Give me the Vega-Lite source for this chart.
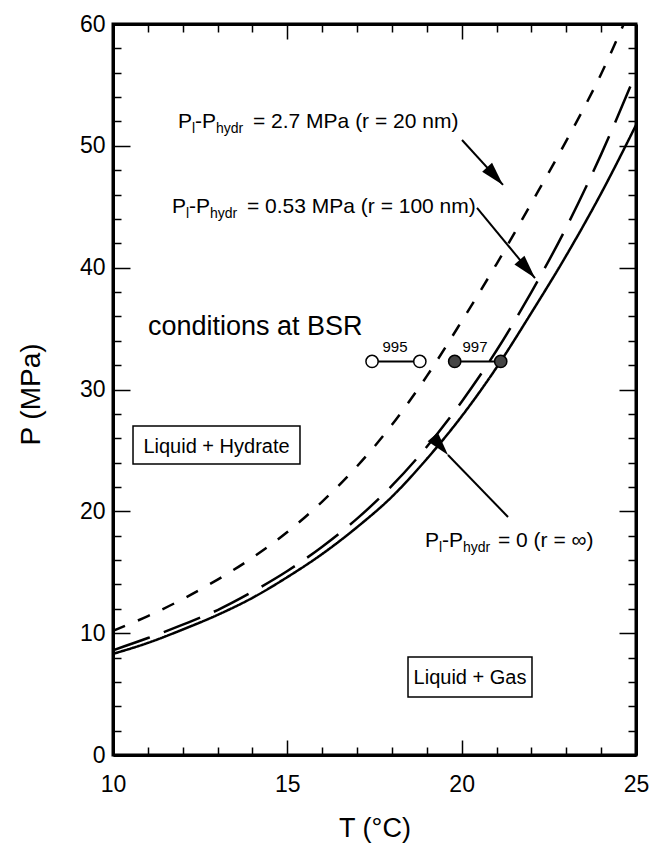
{
  "$schema": "https://vega.github.io/schema/vega-lite/v6.json",
  "width": 523,
  "height": 731,
  "autosize": {"type": "none"},
  "padding": {"left": 113, "top": 24, "right": 14, "bottom": 90},
  "background": "white",
  "config": {
    "font": "Liberation Sans",
    "view": {"stroke": "black", "strokeWidth": 3},
    "axis": {
      "grid": false,
      "ticks": true,
      "zindex": 1,
      "domainColor": "black",
      "domainWidth": 3,
      "tickColor": "black",
      "tickWidth": 1.5,
      "labelColor": "black",
      "labelFont": "Liberation Sans",
      "labelFontSize": 23,
      "labelFlush": false,
      "labelOverlap": false,
      "titleFont": "Liberation Sans",
      "titleFontSize": 27,
      "titleFontWeight": "normal",
      "titleColor": "black"
    }
  },
  "datasets": {
    "curves": [
      {"curve": "inf", "T": 10, "P": 8.3},
      {"curve": "inf", "T": 11, "P": 9.2},
      {"curve": "inf", "T": 12, "P": 10.3},
      {"curve": "inf", "T": 13, "P": 11.5},
      {"curve": "inf", "T": 14, "P": 12.9},
      {"curve": "inf", "T": 15, "P": 14.6},
      {"curve": "inf", "T": 16, "P": 16.5},
      {"curve": "inf", "T": 17, "P": 18.7},
      {"curve": "inf", "T": 18, "P": 21.2},
      {"curve": "inf", "T": 19, "P": 24.3},
      {"curve": "inf", "T": 20, "P": 27.8},
      {"curve": "inf", "T": 21, "P": 31.8},
      {"curve": "inf", "T": 22, "P": 36.3},
      {"curve": "inf", "T": 23, "P": 41.0},
      {"curve": "inf", "T": 24, "P": 46.1},
      {"curve": "inf", "T": 25, "P": 51.7},
      {"curve": "r100", "T": 10, "P": 8.6},
      {"curve": "r100", "T": 11, "P": 9.6},
      {"curve": "r100", "T": 12, "P": 10.7},
      {"curve": "r100", "T": 13, "P": 11.9},
      {"curve": "r100", "T": 14, "P": 13.4},
      {"curve": "r100", "T": 15, "P": 15.1},
      {"curve": "r100", "T": 16, "P": 17.1},
      {"curve": "r100", "T": 17, "P": 19.4},
      {"curve": "r100", "T": 18, "P": 22.1},
      {"curve": "r100", "T": 19, "P": 25.3},
      {"curve": "r100", "T": 20, "P": 29.0},
      {"curve": "r100", "T": 21, "P": 33.2},
      {"curve": "r100", "T": 22, "P": 38.0},
      {"curve": "r100", "T": 23, "P": 43.3},
      {"curve": "r100", "T": 24, "P": 49.3},
      {"curve": "r100", "T": 25, "P": 56.0},
      {"curve": "r20", "T": 10, "P": 10.2},
      {"curve": "r20", "T": 11, "P": 11.4},
      {"curve": "r20", "T": 12, "P": 12.8},
      {"curve": "r20", "T": 13, "P": 14.4},
      {"curve": "r20", "T": 14, "P": 16.2},
      {"curve": "r20", "T": 15, "P": 18.3},
      {"curve": "r20", "T": 16, "P": 20.8},
      {"curve": "r20", "T": 17, "P": 23.7},
      {"curve": "r20", "T": 18, "P": 27.1},
      {"curve": "r20", "T": 19, "P": 31.1},
      {"curve": "r20", "T": 20, "P": 35.6},
      {"curve": "r20", "T": 21, "P": 40.3},
      {"curve": "r20", "T": 22, "P": 45.3},
      {"curve": "r20", "T": 23, "P": 50.4},
      {"curve": "r20", "T": 24, "P": 55.9},
      {"curve": "r20", "T": 24.65, "P": 60.0}
    ],
    "sites": [
      {"site": "995", "T": 17.43, "P": 32.3},
      {"site": "995", "T": 18.8, "P": 32.3},
      {"site": "997", "T": 19.8, "P": 32.3},
      {"site": "997", "T": 21.12, "P": 32.3}
    ],
    "arrows": [
      {"id": "a1", "T": 20.01, "P": 50.48, "T2": 21.185, "P2": 46.79},
      {"id": "a2", "T": 20.44, "P": 44.9, "T2": 22.103, "P2": 39.15},
      {"id": "a3", "T": 21.329, "P": 19.54, "T2": 19.608, "P2": 24.62}
    ],
    "boxes": [
      {"box": "hydrate", "T": 10.574, "T2": 15.363, "P": 23.89, "P2": 27.01},
      {"box": "gas", "T": 18.461, "T2": 22.017, "P": 4.76, "P2": 8.04}
    ],
    "labels": [
      {"T": 11.864, "P": 51.46, "text": "P", "role": "main"},
      {"T": 12.266, "P": 51.05, "text": "l", "role": "sub"},
      {"T": 12.352, "P": 51.46, "text": "-P", "role": "main"},
      {"T": 12.954, "P": 51.05, "text": "hydr", "role": "sub"},
      {"T": 14.015, "P": 51.46, "text": "= 2.7 MPa (r = 20 nm)", "role": "main"},
      {"T": 11.692, "P": 44.49, "text": "P", "role": "main"},
      {"T": 12.094, "P": 44.08, "text": "l", "role": "sub"},
      {"T": 12.18, "P": 44.49, "text": "-P", "role": "main"},
      {"T": 12.782, "P": 44.08, "text": "hydr", "role": "sub"},
      {"T": 13.843, "P": 44.49, "text": "= 0.53 MPa (r = 100 nm)", "role": "main"},
      {"T": 18.948, "P": 17.07, "text": "P", "role": "main"},
      {"T": 19.35, "P": 16.66, "text": "l", "role": "sub"},
      {"T": 19.436, "P": 17.07, "text": "-P", "role": "main"},
      {"T": 20.038, "P": 16.66, "text": "hydr", "role": "sub"},
      {"T": 21.042, "P": 17.07, "text": "= 0 (r = ∞)", "role": "main"},
      {"T": 11.004, "P": 34.47, "text": "conditions at BSR", "role": "big"},
      {"T": 12.968, "P": 24.79, "text": "Liquid + Hydrate", "role": "box"},
      {"T": 20.239, "P": 5.83, "text": "Liquid + Gas", "role": "box"},
      {"T": 18.088, "P": 33.08, "text": "995", "role": "site"},
      {"T": 20.382, "P": 33.08, "text": "997", "role": "site"}
    ]
  },
  "layer": [
    {
      "data": {"name": "curves"},
      "mark": {"type": "line", "color": "black", "strokeWidth": 2.5, "interpolate": "monotone", "clip": true},
      "encoding": {
        "x": {
          "field": "T", "type": "quantitative",
          "scale": {"domain": [10, 25], "nice": false},
          "axis": {
            "orient": "bottom",
            "title": "T (°C)",
            "values": [10, 11, 12, 13, 14, 15, 16, 17, 18, 19, 20, 21, 22, 23, 24, 25],
            "labelExpr": "datum.value % 5 === 0 ? datum.label : ''",
            "tickSize": {"condition": {"test": "datum.value % 5 === 0", "value": -15}, "value": -8},
            "labelPadding": 33,
            "titleBaseline": "middle",
            "titleY": 73
          }
        },
        "y": {
          "field": "P", "type": "quantitative",
          "scale": {"domain": [0, 60], "nice": false},
          "axis": {
            "orient": "left",
            "title": "P (MPa)",
            "titleFontSize": 28,
            "values": [0, 2, 4, 6, 8, 10, 12, 14, 16, 18, 20, 22, 24, 26, 28, 30, 32, 34, 36, 38, 40, 42, 44, 46, 48, 50, 52, 54, 56, 58, 60],
            "labelExpr": "datum.value % 10 === 0 ? datum.label : ''",
            "tickSize": {"condition": {"test": "datum.value % 10 === 0", "value": -17}, "value": -8},
            "labelPadding": 25,
            "titleAngle": -90,
            "titleBaseline": "middle",
            "titleX": -82,
            "titleY": 370
          }
        },
        "strokeDash": {
          "field": "curve", "type": "nominal",
          "scale": {"domain": ["inf", "r100", "r20"], "range": [[1, 0], [39, 15], [13, 14]]},
          "legend": null
        }
      }
    },
    {
      "data": {"name": "sites"},
      "mark": {"type": "line", "color": "black", "strokeWidth": 2},
      "encoding": {
        "x": {
          "field": "T", "type": "quantitative",
          "scale": {"domain": [10, 25], "nice": false},
          "axis": {
            "orient": "top", "title": null, "labels": false,
            "values": [10, 11, 12, 13, 14, 15, 16, 17, 18, 19, 20, 21, 22, 23, 24, 25],
            "tickSize": {"condition": {"test": "datum.value % 5 === 0", "value": -15}, "value": -8}
          }
        },
        "y": {
          "field": "P", "type": "quantitative",
          "scale": {"domain": [0, 60], "nice": false},
          "axis": {
            "orient": "right", "title": null, "labels": false,
            "values": [0, 2, 4, 6, 8, 10, 12, 14, 16, 18, 20, 22, 24, 26, 28, 30, 32, 34, 36, 38, 40, 42, 44, 46, 48, 50, 52, 54, 56, 58, 60],
            "tickSize": {"condition": {"test": "datum.value % 10 === 0", "value": -17}, "value": -8}
          }
        },
        "detail": {"field": "site", "type": "nominal"}
      }
    },
    {
      "data": {"name": "sites"},
      "mark": {"type": "point", "shape": "circle", "size": 150, "stroke": "black", "strokeWidth": 1.5, "filled": false, "opacity": 1},
      "encoding": {
        "x": {"field": "T", "type": "quantitative", "axis": null},
        "y": {"field": "P", "type": "quantitative", "axis": null},
        "fill": {"field": "site", "type": "nominal", "scale": {"domain": ["995", "997"], "range": ["white", "#454545"]}, "legend": null},
        "fillOpacity": {"value": 1}
      }
    },
    {
      "data": {"name": "arrows"},
      "mark": {"type": "rule", "color": "black", "strokeWidth": 2},
      "encoding": {
        "x": {"field": "T", "type": "quantitative", "axis": null},
        "y": {"field": "P", "type": "quantitative", "axis": null},
        "x2": {"field": "T2"},
        "y2": {"field": "P2"}
      }
    },
    {
      "data": {"name": "arrows"},
      "mark": {"type": "point", "shape": "M0,0L0.42,1.5L-0.42,1.5Z", "size": 1000, "filled": true, "color": "black", "opacity": 1},
      "encoding": {
        "x": {"field": "T2", "type": "quantitative", "axis": null},
        "y": {"field": "P2", "type": "quantitative", "axis": null},
        "angle": {"field": "id", "type": "nominal", "scale": {"domain": ["a1", "a2", "a3"], "range": [138, 140, 316]}, "legend": null}
      }
    },
    {
      "data": {"name": "boxes"},
      "mark": {"type": "rect", "fill": "white", "stroke": "black", "strokeWidth": 1.5},
      "encoding": {
        "x": {"field": "T", "type": "quantitative", "axis": null},
        "x2": {"field": "T2"},
        "y": {"field": "P", "type": "quantitative", "axis": null},
        "y2": {"field": "P2"}
      }
    },
    {
      "data": {"name": "labels"},
      "transform": [{"filter": "datum.role === 'main'"}],
      "mark": {"type": "text", "align": "left", "baseline": "alphabetic", "color": "black", "font": "Liberation Sans", "fontSize": 21},
      "encoding": {
        "x": {"field": "T", "type": "quantitative", "axis": null},
        "y": {"field": "P", "type": "quantitative", "axis": null},
        "text": {"field": "text"}
      }
    },
    {
      "data": {"name": "labels"},
      "transform": [{"filter": "datum.role === 'sub'"}],
      "mark": {"type": "text", "align": "left", "baseline": "alphabetic", "color": "black", "font": "Liberation Sans", "fontSize": 14},
      "encoding": {
        "x": {"field": "T", "type": "quantitative", "axis": null},
        "y": {"field": "P", "type": "quantitative", "axis": null},
        "text": {"field": "text"}
      }
    },
    {
      "data": {"name": "labels"},
      "transform": [{"filter": "datum.role === 'big'"}],
      "mark": {"type": "text", "align": "left", "baseline": "alphabetic", "color": "black", "font": "Liberation Sans", "fontSize": 27},
      "encoding": {
        "x": {"field": "T", "type": "quantitative", "axis": null},
        "y": {"field": "P", "type": "quantitative", "axis": null},
        "text": {"field": "text"}
      }
    },
    {
      "data": {"name": "labels"},
      "transform": [{"filter": "datum.role === 'box'"}],
      "mark": {"type": "text", "align": "center", "baseline": "alphabetic", "color": "black", "font": "Liberation Sans", "fontSize": 20},
      "encoding": {
        "x": {"field": "T", "type": "quantitative", "axis": null},
        "y": {"field": "P", "type": "quantitative", "axis": null},
        "text": {"field": "text"}
      }
    },
    {
      "data": {"name": "labels"},
      "transform": [{"filter": "datum.role === 'site'"}],
      "mark": {"type": "text", "align": "center", "baseline": "alphabetic", "color": "black", "font": "Liberation Sans", "fontSize": 15},
      "encoding": {
        "x": {"field": "T", "type": "quantitative", "axis": null},
        "y": {"field": "P", "type": "quantitative", "axis": null},
        "text": {"field": "text"}
      }
    }
  ],
  "resolve": {"axis": {"x": "independent", "y": "independent"}, "scale": {"angle": "independent", "fill": "independent", "strokeDash": "independent"}}
}
